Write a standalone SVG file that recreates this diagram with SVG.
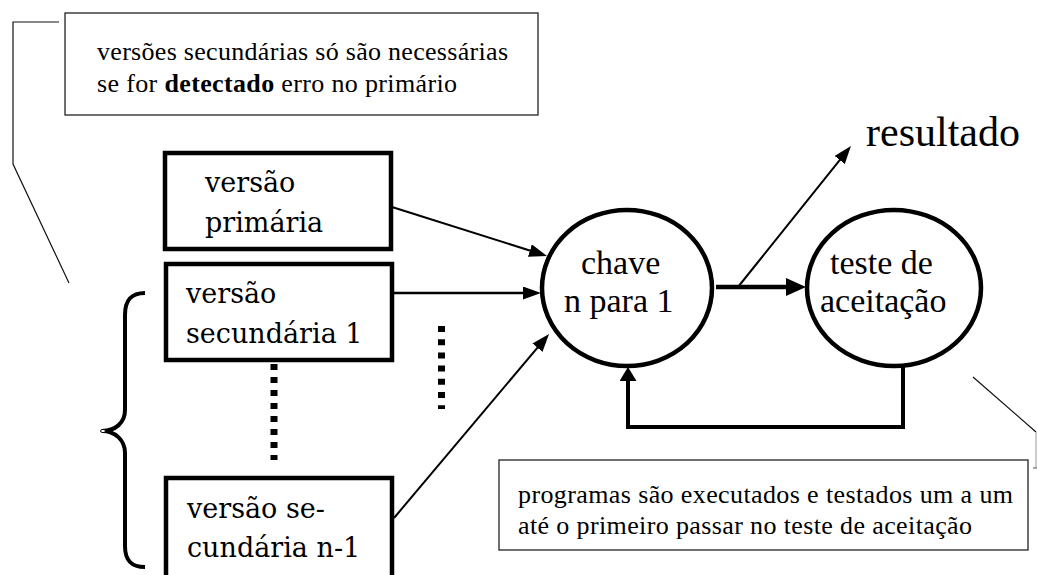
<svg xmlns="http://www.w3.org/2000/svg" width="1037" height="575" viewBox="0 0 1037 575">
<style>
.note{font-family:"Liberation Serif","Times New Roman",serif;font-size:26px;fill:#000}
.box{fill:#fff;stroke:#000;stroke-width:4.5}
.btxt{font-family:"DejaVu Serif",serif;font-size:27px;fill:#000}
.etxt{font-family:"Liberation Serif","Times New Roman",serif;font-size:34px;fill:#000}
.ell{fill:#fff;stroke:#000;stroke-width:4.5}
.thin{fill:none;stroke:#000;stroke-width:2}
.callout{fill:#fff;stroke:#222;stroke-width:1.3}
.leader{fill:none;stroke:#111;stroke-width:1.2}
</style>
<defs>
<marker id="ah" markerUnits="userSpaceOnUse" markerWidth="18" markerHeight="13" refX="8" refY="6.5" orient="auto"><path d="M0,0 L18,6.5 L0,13 z" fill="#000"/></marker>
<marker id="ahBig" markerUnits="userSpaceOnUse" markerWidth="20" markerHeight="18" refX="10" refY="9" orient="auto"><path d="M0,0 L20,9 L0,18 z" fill="#000"/></marker>
<marker id="ahMid" markerUnits="userSpaceOnUse" markerWidth="14" markerHeight="17" refX="4" refY="8.5" orient="auto"><path d="M0,0 L14,8.5 L0,17 z" fill="#000"/></marker>
</defs>

<g id="note-top">
<polyline class="leader" points="59,22 13,22 13,164 69,283"/>
<rect class="callout" x="65" y="13" width="473" height="102"/>
<text class="note" x="97" y="60" textLength="411">versões secundárias só são necessárias</text>
<text class="note" x="97" y="92" textLength="360">se for <tspan font-weight="bold">detectado</tspan> erro no primário</text>
</g>

<g id="brace">
<path d="M145,293 C131,293 125,300 125,315 L125,410 C125,423 115,431 102,431 C115,431 125,440 125,453 L125,546 C125,560 131,567 145,567" fill="none" stroke="#000" stroke-width="4"/>
<ellipse cx="103" cy="431" rx="2.5" ry="1.6" fill="#fff" stroke="#000" stroke-width="1"/>
</g>

<g id="connectors">
<line x1="392" y1="207" x2="537.5" y2="253" class="thin" marker-end="url(#ah)"/>
<line x1="394" y1="293" x2="531" y2="293" fill="none" stroke="#000" stroke-width="2.5" marker-end="url(#ah)"/>
<line x1="394" y1="518" x2="542.6" y2="341.6" class="thin" marker-end="url(#ah)"/>
<line x1="716" y1="287" x2="796" y2="287" fill="none" stroke="#000" stroke-width="4.5" marker-end="url(#ahBig)"/>
<line x1="738" y1="287" x2="844.7" y2="153.8" class="thin" marker-end="url(#ah)"/>
<polyline points="903,366 903,427 628,427 628,377" fill="none" stroke="#000" stroke-width="4" marker-end="url(#ahMid)"/>
<line x1="274" y1="364" x2="274" y2="460" stroke="#000" stroke-width="7" stroke-dasharray="6 7"/>
<line x1="441.5" y1="326" x2="441.5" y2="409" stroke="#000" stroke-width="7" stroke-dasharray="6 7.2"/>
</g>

<g id="box-primaria">
<rect class="box" x="165" y="153" width="226" height="96"/>
<text class="btxt" x="205" y="192">versão</text>
<text class="btxt" x="205" y="232">primária</text>
</g>

<g id="box-secundaria1">
<rect class="box" x="166" y="264" width="226" height="96"/>
<text class="btxt" x="186" y="303">versão</text>
<text class="btxt" x="186" y="343">secundária 1</text>
</g>

<g id="box-secundaria-n1">
<rect class="box" x="166" y="478" width="226" height="130"/>
<text class="btxt" x="187" y="518">versão se-</text>
<text class="btxt" x="187" y="557">cundária n-1</text>
</g>

<g id="chave">
<ellipse class="ell" cx="627" cy="288" rx="85" ry="78"/>
<text class="etxt" x="581" y="274">chave</text>
<text class="etxt" x="564" y="312">n para 1</text>
</g>

<g id="teste">
<ellipse class="ell" cx="894" cy="288" rx="87" ry="78"/>
<text class="etxt" x="830" y="274">teste de</text>
<text class="etxt" x="820" y="312">aceitação</text>
</g>

<g id="resultado">
<text class="etxt" x="866" y="146" font-size="42" style="font-size:42px" textLength="154">resultado</text>
</g>

<g id="note-bottom">
<line x1="973" y1="377" x2="1036" y2="432" stroke="#111" stroke-width="1.2"/>
<line x1="1036" y1="432" x2="1036" y2="468" stroke="#999" stroke-width="1"/>
<line x1="1033" y1="468" x2="1037" y2="468" stroke="#555" stroke-width="1"/>
<rect class="callout" x="499" y="460" width="529" height="90"/>
<text class="note" x="518" y="503" textLength="495">programas são executados e testados um a um</text>
<text class="note" x="518" y="534" textLength="454">até o primeiro passar no teste de aceitação</text>
</g>
</svg>
